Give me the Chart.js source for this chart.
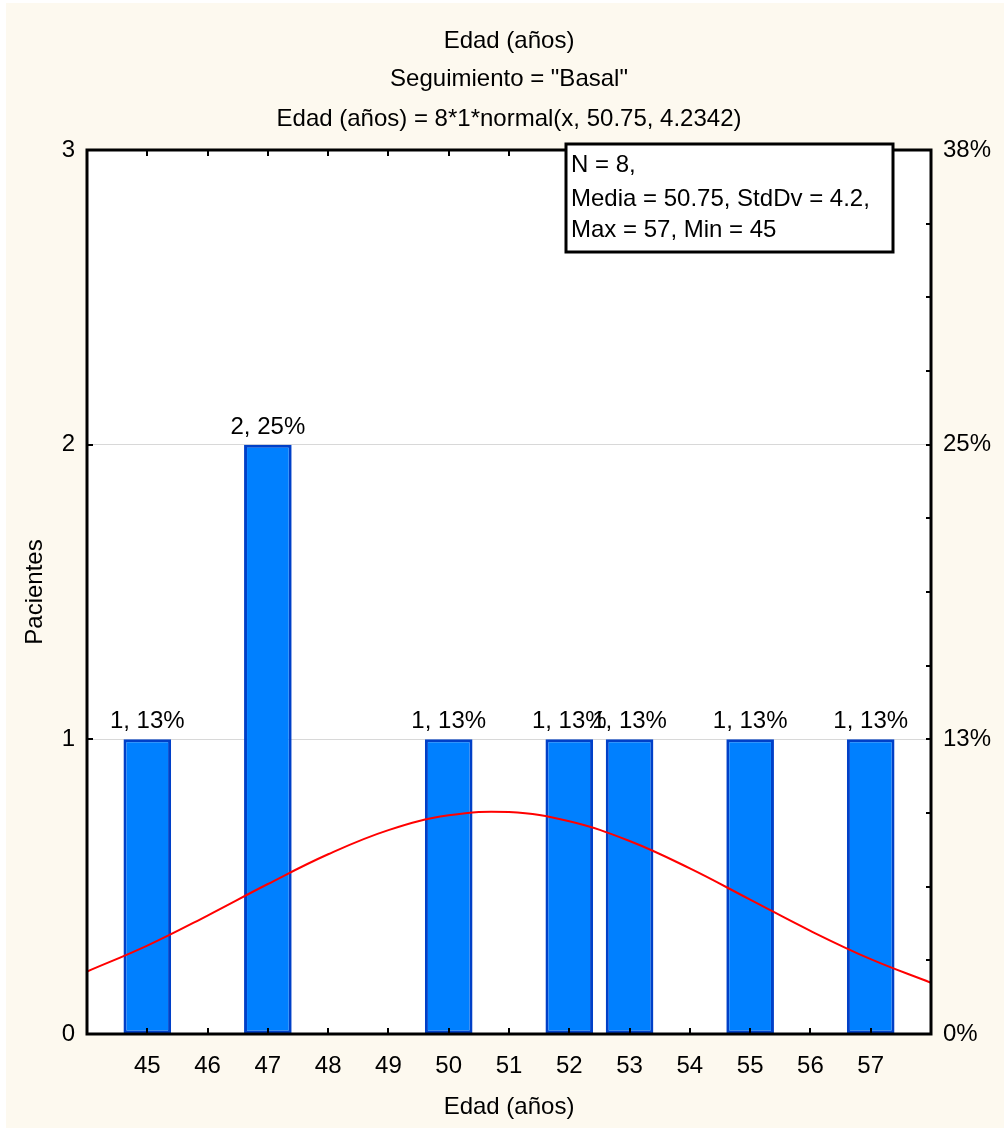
<!DOCTYPE html>
<html>
<head>
<meta charset="utf-8">
<script src="https://cdn.jsdelivr.net/npm/chart.js@4.4.1/dist/chart.umd.min.js"></script>
<style>
  html, body { margin: 0; padding: 0; background: #ffffff; }
  #wrap { width: 1004px; height: 1132px; position: relative; }
  canvas { display: block; }
</style>
</head>
<body>
<div id="wrap"><canvas id="c" width="1004" height="1132"></canvas></div>
<script>
// ---- data ----
const titleLines = ['Edad (años)', 'Seguimiento = "Basal"', 'Edad (años) = 8*1*normal(x, 50.75, 4.2342)'];
const xAxisTitle = 'Edad (años)';
const yAxisTitle = 'Pacientes';
const ageValues = [45, 47, 50, 52, 53, 55, 57];      // bar positions (años)
const patientCounts = [1, 2, 1, 1, 1, 1, 1];          // Pacientes per age
const xTickLabels = [45, 46, 47, 48, 49, 50, 51, 52, 53, 54, 55, 56, 57];
const yTickValues = [0, 1, 2, 3];
// fitted normal curve (read at each integer age)
const curveX = [44, 45, 46, 47, 48, 49, 50, 51, 52, 53, 54, 55, 56, 57, 58];
const curveY = [0.212, 0.300, 0.402, 0.509, 0.610, 0.692, 0.742, 0.753, 0.722, 0.655, 0.562, 0.456, 0.350, 0.254, 0.174];

// ---- derived stats ----
const N = patientCounts.reduce((a, b) => a + b, 0);
let sum = 0; ageValues.forEach((v, i) => sum += v * patientCounts[i]);
const mean = sum / N;
let ss = 0; ageValues.forEach((v, i) => ss += patientCounts[i] * (v - mean) ** 2);
const sd = Math.sqrt(ss / (N - 1));
const maxV = Math.max(...ageValues), minV = Math.min(...ageValues);
const statLines = [
  'N = ' + N + ',',
  'Media = ' + mean.toFixed(2) + ', StdDv = ' + sd.toFixed(1) + ',',
  'Max = ' + maxV + ', Min = ' + minV
];
const pct = v => Math.round(v / N * 100) + '%';

const FONT = '"Liberation Sans", Arial, sans-serif';
const FS = 24;
Chart.defaults.font.family = FONT;
Chart.defaults.font.size = FS;
Chart.defaults.color = '#000000';

const decor = {
  id: 'decor',
  beforeDraw(chart) {
    const ctx = chart.ctx, a = chart.chartArea;
    ctx.save();
    ctx.fillStyle = '#ffffff';
    ctx.fillRect(0, 0, chart.width, chart.height);
    ctx.fillStyle = '#fdf9ef';
    ctx.fillRect(6, 3, chart.width - 6, 1125);
    ctx.fillStyle = '#ffffff';
    ctx.fillRect(a.left, a.top, a.right - a.left, a.bottom - a.top);
    // titles
    ctx.fillStyle = '#000';
    ctx.font = FS + 'px ' + FONT;
    ctx.textAlign = 'center';
    ctx.textBaseline = 'middle';
    const ty = [41, 79, 119];
    titleLines.forEach((t, i) => ctx.fillText(t, (a.left + a.right) / 2, ty[i]));
    ctx.restore();
  },
  afterDatasetsDraw(chart) {
    const ctx = chart.ctx, a = chart.chartArea;
    const xs = chart.scales.x, ys = chart.scales.y, y2 = chart.scales.y2;
    ctx.save();
    // frame
    ctx.strokeStyle = '#000';
    ctx.lineWidth = 3;
    ctx.strokeRect(a.left, a.top, a.right - a.left, a.bottom - a.top);
    // inward ticks
    ctx.lineWidth = 2;
    ctx.beginPath();
    xTickLabels.forEach(v => {
      const px = Math.round(xs.getPixelForValue(v));
      ctx.moveTo(px, a.bottom); ctx.lineTo(px, a.bottom - 6);
      ctx.moveTo(px, a.top); ctx.lineTo(px, a.top + 6);
    });
    yTickValues.forEach(v => {
      const py = Math.round(ys.getPixelForValue(v));
      ctx.moveTo(a.left, py); ctx.lineTo(a.left + 6, py);
    });
    for (let v = 0; v <= 3.0001; v += 0.25) {
      const py = Math.round(y2.getPixelForValue(v));
      ctx.moveTo(a.right, py); ctx.lineTo(a.right - 5, py);
    }
    ctx.stroke();
    // bar labels
    const meta = chart.getDatasetMeta(1);
    ctx.fillStyle = '#000';
    ctx.font = FS + 'px ' + FONT;
    ctx.textAlign = 'center';
    ctx.textBaseline = 'alphabetic';
    meta.data.forEach((bar, i) => {
      const v = patientCounts[i];
      ctx.fillText(v + ', ' + pct(v), bar.x, bar.y - 11);
    });
    // stats box
    const bx = 566, by = 144, bw = 327, bh = 108;
    ctx.fillStyle = '#ffffff';
    ctx.fillRect(bx, by, bw, bh);
    ctx.lineWidth = 3;
    ctx.strokeStyle = '#000';
    ctx.strokeRect(bx, by, bw, bh);
    ctx.fillStyle = '#000';
    ctx.textAlign = 'left';
    ctx.textBaseline = 'middle';
    const sy = [165, 199, 230];
    statLines.forEach((t, i) => ctx.fillText(t, bx + 5, sy[i]));
    ctx.restore();
  }
};

new Chart(document.getElementById('c'), {
  type: 'bar',
  data: {
    datasets: [
      {
        type: 'line',
        label: 'normal',
        data: curveX.map((x, i) => ({ x: x, y: curveY[i] })),
        borderColor: '#ff0000',
        borderWidth: 2,
        pointRadius: 0,
        tension: 0.4,
        fill: false,
        order: 0,
        yAxisID: 'y'
      },
      {
        type: 'bar',
        label: 'Pacientes',
        data: ageValues.map((x, i) => ({ x: x, y: patientCounts[i] })),
        backgroundColor: '#0080ff',
        borderColor: '#0040c8',
        borderWidth: 3,
        borderSkipped: false,
        barPercentage: 0.79,
        categoryPercentage: 1,
        order: 1,
        yAxisID: 'y'
      }
    ]
  },
  options: {
    responsive: false,
    animation: false,
    devicePixelRatio: 1,
    layout: { padding: { top: 150, left: 0, right: 0, bottom: 0 } },
    plugins: { legend: { display: false }, tooltip: { enabled: false }, title: { display: false } },
    scales: {
      x: {
        type: 'linear',
        min: 44, max: 58,
        offset: false,
        grid: { display: false, offset: false, drawTicks: false },
        border: { display: false },
        afterBuildTicks: s => { s.ticks = xTickLabels.map(v => ({ value: v })); },
        afterFit: s => { s.height = 98; },
        ticks: { padding: 18, autoSkip: false, maxRotation: 0, color: '#000' },
        title: { display: true, text: xAxisTitle, padding: { top: 0, bottom: 10 }, color: '#000' }
      },
      y: {
        position: 'left',
        min: 0, max: 3,
        afterBuildTicks: s => { s.ticks = yTickValues.map(v => ({ value: v })); },
        grid: { color: '#d8d8d8', lineWidth: 1, drawTicks: false },
        border: { display: false },
        afterFit: s => { s.width = 87; },
        ticks: { padding: 12, color: '#000' },
        title: { display: true, text: yAxisTitle, padding: { top: 21, bottom: 0 }, color: '#000' }
      },
      y2: {
        position: 'right',
        min: 0, max: 3,
        afterBuildTicks: s => { s.ticks = yTickValues.map(v => ({ value: v })); },
        grid: { display: false, drawTicks: false },
        border: { display: false },
        afterFit: s => { s.width = 73; },
        ticks: { padding: 12, color: '#000', callback: v => pct(v) }
      }
    }
  },
  plugins: [decor]
});
</script>
</body>
</html>
